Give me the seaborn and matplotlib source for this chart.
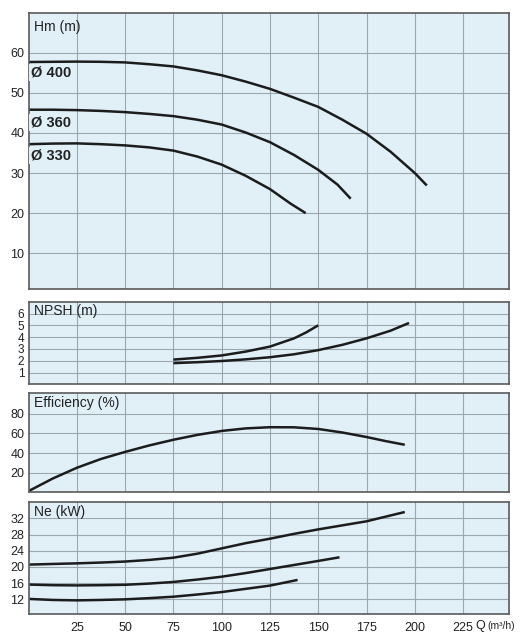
import matplotlib
matplotlib.use("Agg")
import matplotlib.pyplot as plt
import seaborn as sns
import pandas as pd

# Head curves Hm (m) per impeller diameter
q_400 = [0, 12.5, 25, 37.5, 50, 62.5, 75, 87.5, 100, 112.5, 125, 137.5, 150, 162.5, 175, 187.5, 200, 206.2]
h_400 = [57.7, 57.75, 57.8, 57.75, 57.6, 57.15, 56.6, 55.6, 54.4, 52.8, 51.0, 48.8, 46.5, 43.3, 39.8, 35.3, 30.0, 26.9]
q_360 = [0, 12.5, 25, 37.5, 50, 62.5, 75, 87.5, 100, 112.5, 125, 137.5, 150, 160, 166.8]
h_360 = [45.8, 45.8, 45.7, 45.5, 45.2, 44.75, 44.2, 43.3, 42.1, 40.1, 37.7, 34.5, 30.8, 27.1, 23.6]
q_330 = [0, 12.5, 25, 37.5, 50, 62.5, 75, 87.5, 100, 112.5, 125, 135.6, 143.5]
h_330 = [37.2, 37.35, 37.4, 37.2, 36.9, 36.4, 35.6, 34.1, 32.1, 29.3, 26.0, 22.4, 20.0]
diam_labels = ["Ø 400", "Ø 360", "Ø 330"]
diam_label_y = [55.0, 42.7, 34.4]

# NPSH (m)
q_npsh_a = [75, 87.5, 100, 112.5, 125, 137.5, 143.75, 150]
npsh_a = [2.1, 2.25, 2.45, 2.78, 3.2, 3.9, 4.4, 5.0]
q_npsh_b = [75, 87.5, 100, 112.5, 125, 137.5, 150, 162.5, 175, 187.5, 197]
npsh_b = [1.8, 1.88, 1.98, 2.12, 2.3, 2.55, 2.9, 3.35, 3.9, 4.55, 5.2]

# Efficiency (%)
q_eff = [0.3, 12.5, 25, 37.5, 50, 62.5, 75, 87.5, 100, 112.5, 125, 137.5, 150, 162.5, 175, 185, 194.8]
eff = [1.5, 14.0, 25.0, 34.0, 41.2, 47.8, 53.6, 58.6, 62.6, 65.2, 66.4, 66.3, 64.6, 61.0, 56.4, 52.2, 48.5]

# Power Ne (kW)
q_ne_400 = [0.5, 12.5, 25, 37.5, 50, 62.5, 75, 87.5, 100, 112.5, 125, 137.5, 150, 162.5, 175, 194.8]
ne_400 = [20.6, 20.75, 20.9, 21.1, 21.35, 21.75, 22.3, 23.3, 24.6, 25.9, 27.0, 28.2, 29.3, 30.3, 31.3, 33.6]
q_ne_360 = [0.5, 12.5, 25, 37.5, 50, 62.5, 75, 87.5, 100, 112.5, 125, 137.5, 150, 161]
ne_360 = [15.65, 15.5, 15.45, 15.5, 15.6, 15.9, 16.3, 16.9, 17.6, 18.5, 19.5, 20.5, 21.5, 22.4]
q_ne_330 = [0.5, 12.5, 25, 37.5, 50, 62.5, 75, 87.5, 100, 112.5, 125, 139.3]
ne_330 = [12.1, 11.85, 11.75, 11.85, 12.0, 12.3, 12.65, 13.2, 13.8, 14.6, 15.4, 16.8]

x_ticks = [25, 50, 75, 100, 125, 150, 175, 200, 225]

sns.set_theme(style="white")
plt.rcParams["font.family"] = ["Liberation Sans", "DejaVu Sans"]

BG = "#e1eff7"
GRID = "#9ca7ae"
SPINE = "#5a5a5a"
LINE = "#1c1c1c"

W, H = 520, 635
fig = plt.figure(figsize=(W / 100, H / 100), dpi=100)


def panel(top, bottom):
    left, right = 28.5, 508.5
    return fig.add_axes([left / W, (H - bottom) / H, (right - left) / W, (bottom - top) / H])


def style(ax, ylim, yticks, title):
    ax.set_facecolor(BG)
    ax.set_xlim(0, 248.5)
    ax.set_ylim(*ylim)
    ax.set_xticks(x_ticks)
    ax.set_yticks(yticks)
    ax.grid(True, color=GRID, linewidth=0.8)
    ax.set_axisbelow(True)
    ax.tick_params(axis="both", length=0, labelsize=9, colors="#222222", pad=3)
    ax.tick_params(axis="x", pad=6)
    for s in ax.spines.values():
        s.set_color(SPINE)
        s.set_linewidth(1.2)
    ax.set_xlabel("")
    ax.set_ylabel("")
    ax.text(0.012, 0.975, title, transform=ax.transAxes, ha="left", va="top",
            fontsize=10, color="#222222")


def curve(ax, x, y):
    df = pd.DataFrame({"Q": x, "v": y})
    sns.lineplot(data=df, x="Q", y="v", ax=ax, color=LINE, linewidth=1.8, sort=False,
                 solid_joinstyle="round", solid_capstyle="butt")


# Head panel
ax1 = panel(12.7, 289.3)
for x, y in [(q_400, h_400), (q_360, h_360), (q_330, h_330)]:
    curve(ax1, x, y)
style(ax1, (1, 70), [10, 20, 30, 40, 50, 60], "Hm (m)")
for lab, yy in zip(diam_labels, diam_label_y):
    ax1.text(1.2, yy, lab, fontsize=10.5, fontweight="bold", color="#222222",
             va="center", ha="left",
             bbox=dict(facecolor=BG, edgecolor="none", pad=1.0))
ax1.tick_params(axis="x", labelbottom=False)

# NPSH panel
ax2 = panel(301.7, 384.4)
curve(ax2, q_npsh_a, npsh_a)
curve(ax2, q_npsh_b, npsh_b)
style(ax2, (0, 7), [1, 2, 3, 4, 5, 6], "NPSH (m)")
ax2.tick_params(axis="x", labelbottom=False)
for lbl in ax2.get_yticklabels():
    lbl.set_fontsize(8.5)

# Efficiency panel
ax3 = panel(393.3, 492.3)
curve(ax3, q_eff, eff)
style(ax3, (0, 101), [20, 40, 60, 80], "Efficiency (%)")
ax3.tick_params(axis="x", labelbottom=False)

# Power panel
ax4 = panel(502.3, 613.5)
for x, y in [(q_ne_400, ne_400), (q_ne_360, ne_360), (q_ne_330, ne_330)]:
    curve(ax4, x, y)
style(ax4, (8.5, 36), [12, 16, 20, 24, 28, 32], "Ne (kW)")
ax4.set_xticklabels([str(t) for t in x_ticks])

fig.text(475 / W, 1 - 626 / H, "Q", fontsize=9, color="#222222", va="center", ha="left")
fig.text(487 / W, 1 - 626 / H, "(m³/h)", fontsize=7.5, color="#222222", va="center", ha="left")

fig.savefig("out.png", dpi=100)
